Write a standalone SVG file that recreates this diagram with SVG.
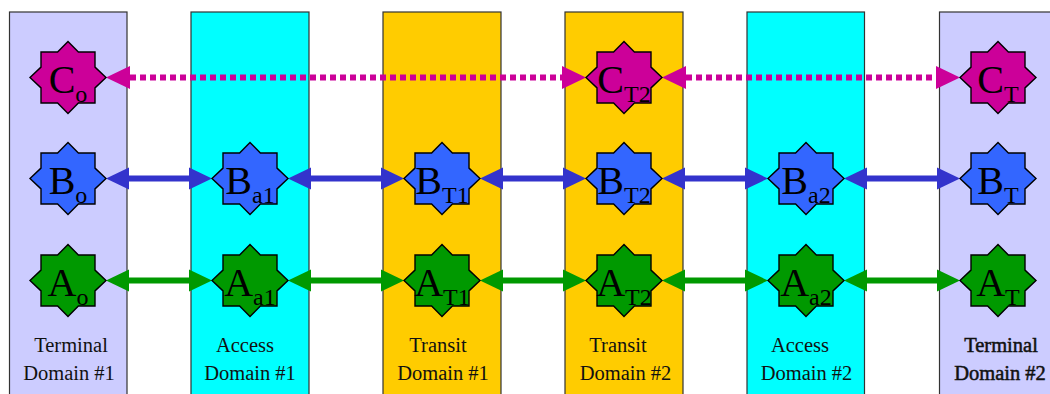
<svg xmlns="http://www.w3.org/2000/svg" xmlns:xlink="http://www.w3.org/1999/xlink" width="1050" height="394" viewBox="0 0 1050 394">
  <style>
    .col { stroke: #333333; stroke-width: 1.2; }
    .term { fill: #ccccff; }
    .acc { fill: #00ffff; }
    .tran { fill: #ffcc00; }
    .star { stroke: #000000; stroke-width: 1.4; stroke-linejoin: miter; }
    .c { fill: #cc0099; }
    .b { fill: #3366ff; }
    .a { fill: #009900; }
    .lbl { font-family: "Liberation Serif", "Times New Roman", serif; font-size: 40px; fill: #000000; text-anchor: middle; }
    .sub { font-size: 24px; }
    .dom { font-family: "Liberation Serif", "Times New Roman", serif; font-size: 20.5px; fill: #111111; text-anchor: middle; }
    .ln { fill: none; stroke-width: 6; }
    .lc { stroke: #cc0099; stroke-dasharray: 6 4; marker-start: url(#mc); marker-end: url(#mc); }
    .lb { stroke: #3333cc; marker-start: url(#mb); marker-end: url(#mb); }
    .la { stroke: #009900; marker-start: url(#ma); marker-end: url(#ma); }
  </style>
  <defs>
    <polygon id="star" points="0,-36 10.4,-25.5 27,-25.5 27,-10.4 38,0 27,10.4 27,25.5 10.4,25.5 0,36 -10.4,25.5 -27,25.5 -27,10.4 -38,0 -27,-10.4 -27,-25.5 -10.4,-25.5"/>
    <marker id="mc" viewBox="0 -12 24 24" refX="0" refY="0" markerWidth="24" markerHeight="24" markerUnits="userSpaceOnUse" orient="auto-start-reverse">
      <path d="M0,-11.5 L24,0 L0,11.5 Z" fill="#cc0099"/>
    </marker>
    <marker id="mb" viewBox="0 -12 24 24" refX="0" refY="0" markerWidth="24" markerHeight="24" markerUnits="userSpaceOnUse" orient="auto-start-reverse">
      <path d="M0,-11 L23,0 L0,11 Z" fill="#3333cc"/>
    </marker>
    <marker id="ma" viewBox="0 -12 24 24" refX="0" refY="0" markerWidth="24" markerHeight="24" markerUnits="userSpaceOnUse" orient="auto-start-reverse">
      <path d="M0,-11 L23,0 L0,11 Z" fill="#009900"/>
    </marker>
  </defs>

  <g id="domains">
    <rect id="terminal1" class="col term" x="9.5" y="12" width="117.5" height="392"/>
    <rect id="access1" class="col acc" x="191" y="12" width="118" height="392"/>
    <rect id="transit1" class="col tran" x="383" y="12" width="118" height="392"/>
    <rect id="transit2" class="col tran" x="565" y="12" width="118" height="392"/>
    <rect id="access2" class="col acc" x="747" y="12" width="117.5" height="392"/>
    <rect id="terminal2" class="col term" x="939.5" y="12" width="118" height="392"/>
  </g>

  <g id="connectors">
    <line class="ln lc" x1="130" y1="77.5" x2="562" y2="77.5"/>
    <line class="ln lc" x1="686" y1="77.5" x2="936" y2="77.5"/>
    <line class="ln lb" x1="129" y1="178.5" x2="189" y2="178.5"/>
    <line class="ln lb" x1="311" y1="178.5" x2="381" y2="178.5"/>
    <line class="ln lb" x1="503" y1="178.5" x2="563" y2="178.5"/>
    <line class="ln lb" x1="685" y1="178.5" x2="745" y2="178.5"/>
    <line class="ln lb" x1="867" y1="178.5" x2="937" y2="178.5"/>
    <line class="ln la" x1="129" y1="280.5" x2="189" y2="280.5"/>
    <line class="ln la" x1="311" y1="280.5" x2="381" y2="280.5"/>
    <line class="ln la" x1="503" y1="280.5" x2="563" y2="280.5"/>
    <line class="ln la" x1="685" y1="280.5" x2="745" y2="280.5"/>
    <line class="ln la" x1="867" y1="280.5" x2="937" y2="280.5"/>
  </g>

  <g id="node-Co"><use xlink:href="#star" class="star c" x="68" y="77.5"/><text class="lbl" x="68" y="92.5">C<tspan class="sub" dy="9">o</tspan></text></g>
  <g id="node-CT2"><use xlink:href="#star" class="star c" x="624" y="77.5"/><text class="lbl" x="624" y="92.5">C<tspan class="sub" dy="9">T2</tspan></text></g>
  <g id="node-CT"><use xlink:href="#star" class="star c" x="998" y="77.5"/><text class="lbl" x="998" y="92.5">C<tspan class="sub" dy="9">T</tspan></text></g>

  <g id="node-Bo"><use xlink:href="#star" class="star b" x="68" y="178.5"/><text class="lbl" x="68" y="193.5">B<tspan class="sub" dy="9">o</tspan></text></g>
  <g id="node-Ba1"><use xlink:href="#star" class="star b" x="250" y="178.5"/><text class="lbl" x="250" y="193.5">B<tspan class="sub" dy="9">a1</tspan></text></g>
  <g id="node-BT1"><use xlink:href="#star" class="star b" x="442" y="178.5"/><text class="lbl" x="442" y="193.5">B<tspan class="sub" dy="9">T1</tspan></text></g>
  <g id="node-BT2"><use xlink:href="#star" class="star b" x="624" y="178.5"/><text class="lbl" x="624" y="193.5">B<tspan class="sub" dy="9">T2</tspan></text></g>
  <g id="node-Ba2"><use xlink:href="#star" class="star b" x="806" y="178.5"/><text class="lbl" x="806" y="193.5">B<tspan class="sub" dy="9">a2</tspan></text></g>
  <g id="node-BT"><use xlink:href="#star" class="star b" x="998" y="178.5"/><text class="lbl" x="998" y="193.5">B<tspan class="sub" dy="9">T</tspan></text></g>

  <g id="node-Ao"><use xlink:href="#star" class="star a" x="68" y="280.5"/><text class="lbl" x="68" y="295.5">A<tspan class="sub" dy="9">o</tspan></text></g>
  <g id="node-Aa1"><use xlink:href="#star" class="star a" x="250" y="280.5"/><text class="lbl" x="250" y="295.5">A<tspan class="sub" dy="9">a1</tspan></text></g>
  <g id="node-AT1"><use xlink:href="#star" class="star a" x="442" y="280.5"/><text class="lbl" x="442" y="295.5">A<tspan class="sub" dy="9">T1</tspan></text></g>
  <g id="node-AT2"><use xlink:href="#star" class="star a" x="624" y="280.5"/><text class="lbl" x="624" y="295.5">A<tspan class="sub" dy="9">T2</tspan></text></g>
  <g id="node-Aa2"><use xlink:href="#star" class="star a" x="806" y="280.5"/><text class="lbl" x="806" y="295.5">A<tspan class="sub" dy="9">a2</tspan></text></g>
  <g id="node-AT"><use xlink:href="#star" class="star a" x="998" y="280.5"/><text class="lbl" x="998" y="295.5">A<tspan class="sub" dy="9">T</tspan></text></g>

  <g id="domain-labels">
    <text class="dom" x="71" y="351.5">Terminal</text>
    <text class="dom" x="69" y="380">Domain #1</text>
    <text class="dom" x="245" y="351.5">Access</text>
    <text class="dom" x="250" y="380">Domain #1</text>
    <text class="dom" x="438" y="351.5">Transit</text>
    <text class="dom" x="443" y="380">Domain #1</text>
    <text class="dom" x="618" y="351.5">Transit</text>
    <text class="dom" x="625.5" y="380">Domain #2</text>
    <text class="dom" x="800" y="351.5">Access</text>
    <text class="dom" x="806.5" y="380">Domain #2</text>
    <text class="dom" x="1001" y="351.5" stroke="#111111" stroke-width="0.5">Terminal</text>
    <text class="dom" x="1000" y="380" stroke="#111111" stroke-width="0.5">Domain #2</text>
  </g>
</svg>
